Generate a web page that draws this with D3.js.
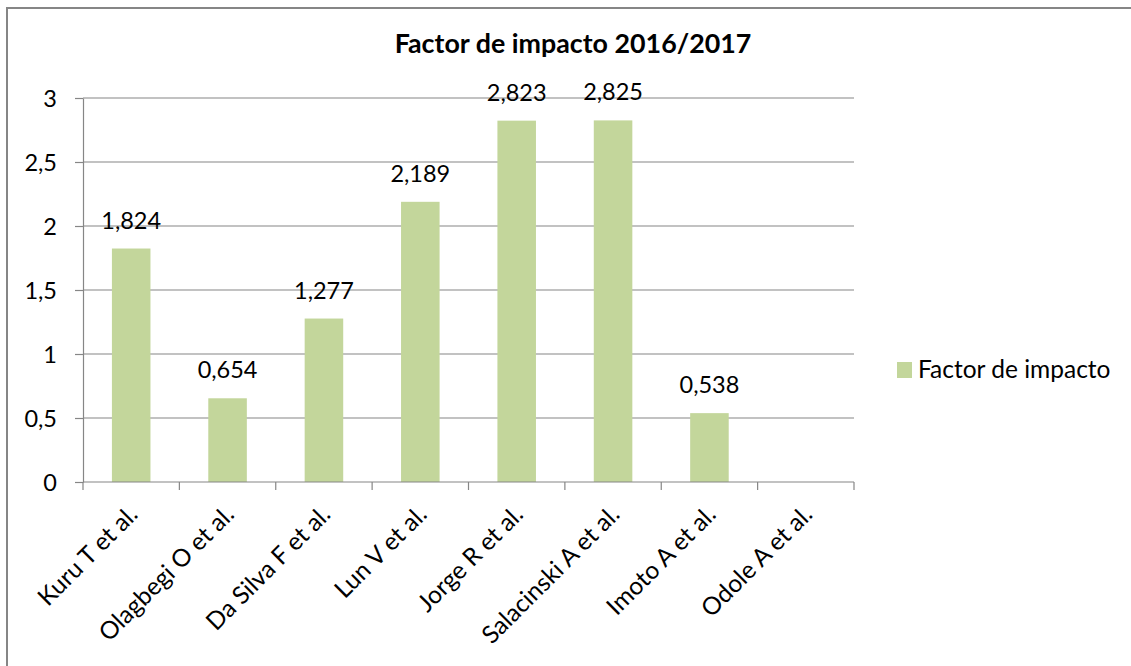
<!DOCTYPE html>
<html>
<head>
<meta charset="utf-8">
<script src="https://cdn.jsdelivr.net/npm/d3@7"></script>
<style>
  html, body { margin: 0; padding: 0; background: #fff; overflow: hidden; }
  svg { display: block; overflow: hidden; }
  text { font-family: Lato, "Open Sans", sans-serif; fill: #000; }
</style>
</head>
<body>
<svg id="chart" width="1131" height="666"></svg>
<script>
// Impact factor per study
const categories = ["Kuru T et al.", "Olagbegi O et al.", "Da Silva F et al.", "Lun V et al.",
                    "Jorge R et al.", "Salacinski A et al.", "Imoto A et al.", "Odole A et al."];
const values = [1.824, 0.654, 1.277, 2.189, 2.823, 2.825, 0.538, null];
const valueLabels = ["1,824", "0,654", "1,277", "2,189", "2,823", "2,825", "0,538", ""];
const yTicks = [0, 0.5, 1, 1.5, 2, 2.5, 3];
const yTickLabels = ["0", "0,5", "1", "1,5", "2", "2,5", "3"];
const seriesName = "Factor de impacto";
const title = "Factor de impacto 2016/2017";

const svg = d3.select("#chart");
const gridColor = "#868686";
const barColor = "#C3D69B";
const numberSize = "23.5px";
const wordSize = "24.5px";

const plot = { left: 83, right: 854, top: 98, bottom: 482 };

// chart frame (right and bottom edges run past the page)
svg.append("rect")
  .attr("x", 7).attr("y", 8)
  .attr("width", 1160).attr("height", 700)
  .attr("fill", "none").attr("stroke", gridColor).attr("stroke-width", 2);

const x = d3.scaleBand().domain(categories)
  .range([plot.left, plot.right]).paddingInner(0.6).paddingOuter(0.3);
const xEdges = d3.scaleBand().domain(categories).range([plot.left, plot.right]);
const y = d3.scaleLinear().domain([0, 3]).range([plot.bottom, plot.top]);

// horizontal gridlines
svg.append("g").selectAll("line").data(yTicks.filter(d => d > 0)).join("line")
  .attr("x1", plot.left).attr("x2", plot.right)
  .attr("y1", d => y(d)).attr("y2", d => y(d))
  .attr("stroke", gridColor).attr("stroke-width", 1.2);

// y axis
const yAxis = svg.append("g").attr("transform", `translate(${plot.left},0)`)
  .call(d3.axisLeft(y).tickValues(yTicks).tickSize(8).tickSizeOuter(0)
    .tickFormat((d, i) => yTickLabels[i]));
yAxis.select(".domain").attr("stroke", gridColor).attr("stroke-width", 1.2);
yAxis.selectAll(".tick line").attr("stroke", gridColor).attr("stroke-width", 1.2);
yAxis.selectAll(".tick text")
  .attr("x", -26).attr("dy", "0.36em")
  .style("font-size", numberSize).style("font-family", "Lato, sans-serif");

// bars
svg.append("g").selectAll("rect").data(categories.map((c, i) => ({ c, v: values[i] })).filter(d => d.v != null))
  .join("rect")
  .attr("x", d => x(d.c))
  .attr("width", x.bandwidth())
  .attr("y", d => y(d.v))
  .attr("height", d => y(0) - y(d.v))
  .attr("fill", barColor);

// value labels
svg.append("g").selectAll("text").data(categories.map((c, i) => ({ c, v: values[i], t: valueLabels[i] })).filter(d => d.v != null))
  .join("text")
  .attr("x", d => x(d.c) + x.bandwidth() / 2)
  .attr("y", d => y(d.v) - 20)
  .attr("text-anchor", "middle")
  .style("font-size", numberSize)
  .text(d => d.t);

// x axis line and ticks at band edges
const xg = svg.append("g");
xg.append("line")
  .attr("x1", plot.left).attr("x2", plot.right)
  .attr("y1", plot.bottom).attr("y2", plot.bottom)
  .attr("stroke", gridColor).attr("stroke-width", 1.2);
const edges = categories.map(c => xEdges(c)).concat([plot.right]);
xg.selectAll("line.tk").data(edges).join("line").attr("class", "tk")
  .attr("x1", d => d).attr("x2", d => d)
  .attr("y1", plot.bottom).attr("y2", plot.bottom + 8)
  .attr("stroke", gridColor).attr("stroke-width", 1.2);

// rotated category labels
xg.selectAll("text").data(categories).join("text")
  .attr("transform", d => `translate(${x(d) + x.bandwidth() / 2 + 8},${plot.bottom + 34}) rotate(-45)`)
  .attr("text-anchor", "end")
  .style("font-size", wordSize)
  .text(d => d);

// title
svg.append("text")
  .attr("x", 573).attr("y", 53)
  .attr("text-anchor", "middle")
  .style("font-size", "26.8px").style("font-weight", "bold")
  .text(title);

// legend
const lg = svg.append("g").attr("transform", "translate(897,362)");
lg.append("rect").attr("width", 15).attr("height", 16).attr("fill", barColor);
lg.append("text").attr("x", 21).attr("y", 16).style("font-size", wordSize).text(seriesName);
</script>
</body>
</html>
